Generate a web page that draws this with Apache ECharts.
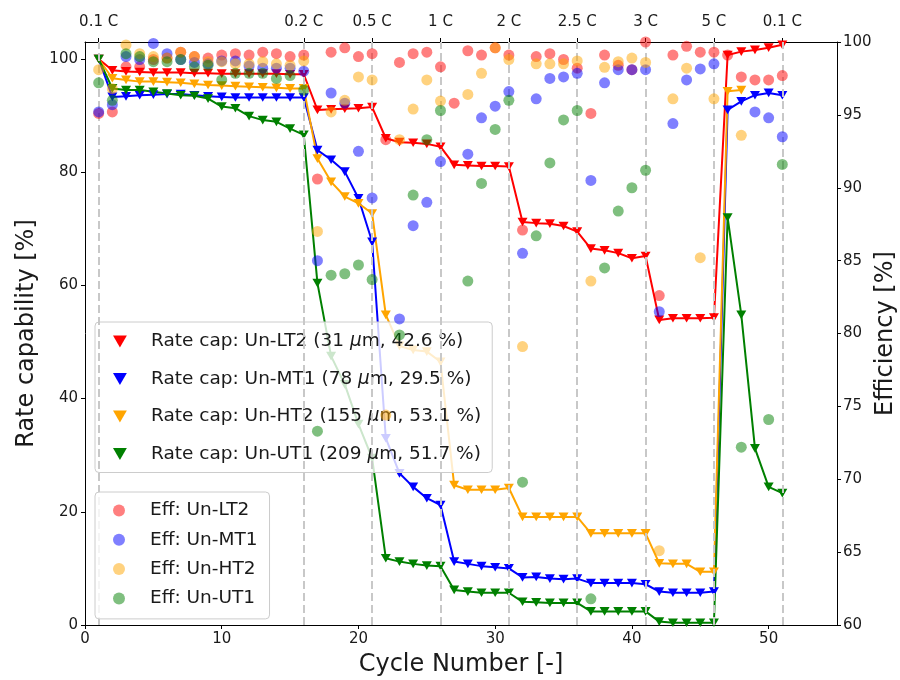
<!DOCTYPE html>
<html>
<head>
<meta charset="utf-8">
<script src="https://cdn.jsdelivr.net/npm/echarts@6/dist/echarts.min.js"></script>
<style>
  html, body { margin: 0; padding: 0; background: #ffffff; }
  #chart { width: 900px; height: 680px; }
</style>
</head>
<body>
<div id="chart"></div>
<script>
// Cycle numbers (x axis)
const cycles = [1,2,3,4,5,6,7,8,9,10,11,12,13,14,15,16,17,18,19,20,21,22,23,24,25,26,
  27,28,29,30,31,32,33,34,35,36,37,38,39,40,41,42,43,44,45,46,47,48,49,50,51];

// C-rate steps shown on the top axis
const stepCycles = [1, 16, 21, 26, 31, 36, 41, 46, 51];
const stepLabels = ['0.1 C', '0.2 C', '0.5 C', '1 C', '2 C', '2.5 C', '3 C', '5 C', '0.1 C'];

// Tick labels
const cycleTicks = [0, 10, 20, 30, 40, 50];
const rateTicks = [0, 20, 40, 60, 80, 100];

// Rate capability [%]
const rateLT2 = [100, 98.0, 97.8, 97.7, 97.6, 97.6, 97.6, 97.5, 97.5, 97.4, 97.4, 97.4, 97.4, 97.4, 97.3, 97.3,
  91.0, 91.1, 91.2, 91.3, 91.5, 86.0, 85.3, 85.2, 85.0, 84.5, 81.3, 81.2, 81.1, 81.1, 81.0,
  71.2, 71.0, 70.9, 70.5, 69.5, 66.5, 66.2, 65.7, 64.8, 65.2, 53.9, 54.2, 54.2, 54.2, 54.3,
  100.7, 101.3, 101.6, 102.0, 102.5];
const rateMT1 = [100, 93.3, 93.4, 93.6, 93.7, 93.8, 93.8, 93.6, 93.4, 93.3, 93.2, 93.2, 93.2, 93.2, 93.2, 93.2,
  83.9, 82.2, 80.1, 75.4, 67.7, 33.0, 26.8, 24.4, 22.4, 21.2, 11.2, 10.8, 10.4, 10.2, 10.0,
  8.4, 8.5, 8.2, 8.1, 8.2, 7.4, 7.4, 7.4, 7.4, 7.2, 5.9, 5.7, 5.7, 5.7, 5.9,
  91.0, 92.5, 93.6, 94.0, 93.6];
const rateHT2 = [100, 96.6, 96.3, 96.0, 96.0, 95.9, 95.8, 95.6, 95.4, 95.3, 95.2, 95.1, 95.0, 94.9, 94.8, 94.8,
  82.4, 78.3, 75.7, 74.5, 72.7, 54.8, 49.3, 48.6, 48.3, 46.5, 24.7, 23.9, 23.9, 23.9, 24.2,
  19.1, 19.1, 19.1, 19.1, 19.1, 16.2, 16.2, 16.2, 16.2, 16.2, 10.9, 10.8, 10.8, 9.4, 9.4,
  94.3, 94.5];
const rateUT1 = [100, 94.8, 94.5, 94.5, 94.2, 93.9, 93.6, 93.5, 93.0, 91.6, 91.3, 89.9, 89.2, 88.9, 87.7, 86.6,
  60.4, 47.5, 42.5, 35.5, 29.5, 11.8, 11.2, 10.8, 10.5, 10.4, 6.2, 5.9, 5.7, 5.7, 5.7,
  4.1, 4.0, 3.9, 3.9, 3.9, 2.4, 2.4, 2.4, 2.4, 2.4, 0.6, 0.4, 0.4, 0.4, 0.4,
  72.0, 54.8, 31.2, 24.4, 23.3];

// Coulombic efficiency [%] (null = not recorded / out of range)
const effLT2 = [95.1, 95.2, 98.3, 98.3, 98.8, 98.9, 99.3, 99.0, 98.9, 99.1, 99.2, 99.1, 99.3, 99.2, 99.0, 99.1,
  90.6, 99.3, 99.6, 99.0, 99.2, 93.3, 98.6, 99.2, 99.3, 98.3, 95.8, 99.4, 99.1, 99.6, 99.1,
  87.1, 99.0, 99.2, 98.8, 98.2, 95.1, 99.1, 98.4, 98.1, 100.0, 82.6, 99.1, 99.7, 99.3, 99.3,
  99.1, 97.6, 97.4, 97.4, 97.7];
const effMT1 = [95.2, 95.7, 99.0, 98.8, 99.9, 99.2, 98.8, 98.6, 98.5, 98.7, 98.7, 98.35, 98.2, 98.2, 98.2, 98.0,
  85.0, 96.5, 95.8, 92.5, 89.3, null, 81.0, 87.4, 89.0, 91.8, null, 92.3, 94.8, 95.6, 96.6,
  85.5, 96.1, 97.5, 97.6, 97.85, 90.5, 97.2, 98.1, 98.1, 98.1, 81.5, 94.4, 97.4, 98.15, 98.5,
  null, null, 95.2, 94.8, 93.5];
const effHT2 = [98.1, 96.8, 99.8, 99.2, 99.0, 98.9, 99.3, 99.0, 98.65, 98.65, 98.5, 98.5, 98.65, 98.5, 98.4, 98.7,
  87.0, 95.2, 96.0, 97.6, 97.4, 74.4, 93.3, 95.4, 97.4, 95.95, null, 96.4, 97.85, 99.6, 98.8,
  79.1, 98.5, 98.5, 98.5, 98.7, 83.6, 98.26, 98.65, 98.9, 98.6, 65.1, 96.1, 98.2, 85.2, 96.1,
  null, 93.6];
const effUT1 = [97.2, 96.0, 99.2, 99.0, 98.65, 98.65, 98.8, 98.3, 98.4, 97.4, 97.85, 97.85, 97.85, 97.5, 97.7, 96.7,
  73.3, 84.0, 84.1, 84.7, 83.7, null, 79.9, 89.5, 93.3, 95.3, null, 83.6, 90.3, 94.0, 96.0,
  69.8, 86.7, 91.7, 94.65, 95.3, 61.8, 84.5, 88.4, 90.0, 91.2, null, null, null, null, null,
  null, 72.2, null, 74.1, 91.6];

const rateNames = [
  'Rate cap: Un-LT2 (31 μm, 42.6 %)',
  'Rate cap: Un-MT1 (78 μm, 29.5 %)',
  'Rate cap: Un-HT2 (155 μm, 53.1 %)',
  'Rate cap: Un-UT1 (209 μm, 51.7 %)'
];
const effNames = ['Eff: Un-LT2', 'Eff: Un-MT1', 'Eff: Un-HT2', 'Eff: Un-UT1'];
const colors = ['#ff0000', '#0000ff', '#ffa500', '#008000'];

const rateSets = [rateLT2, rateMT1, rateHT2, rateUT1];
const effSets = [effLT2, effMT1, effHT2, effUT1];

const FONT = 'DejaVu Sans';
const INK = '#1a1a1a';
const DOWN_TRI = 'path://M0,0L2,0L1,1.732Z';

const pairs = arr => arr.map((v, i) => [cycles[i], v]).filter(p => p[1] !== null);

const series = [];
rateSets.forEach((arr, k) => {
  const s = {
    name: rateNames[k],
    type: 'line',
    xAxisIndex: 0,
    yAxisIndex: 0,
    data: pairs(arr),
    symbol: DOWN_TRI,
    symbolSize: 10,
    symbolKeepAspect: true,
    showAllSymbol: true,
    lineStyle: { color: colors[k], width: 2 },
    itemStyle: { color: colors[k] },
    emphasis: { disabled: true },
    z: 2
  };
  if (k === 0) {
    s.markLine = {
      silent: true,
      symbol: ['none', 'none'],
      label: { show: false },
      lineStyle: { type: [8, 4], color: '#c8c8c8', width: 2 },
      emphasis: { disabled: true },
      data: stepCycles.map(c => ({ xAxis: c }))
    };
  }
  series.push(s);
});
effSets.forEach((arr, k) => {
  series.push({
    name: effNames[k],
    type: 'scatter',
    xAxisIndex: 0,
    yAxisIndex: 1,
    data: pairs(arr),
    symbol: 'circle',
    symbolSize: 11,
    itemStyle: { color: colors[k], opacity: 0.5 },
    emphasis: { disabled: true },
    z: 5
  });
});

const axisLineStyle = { show: true, onZero: false, lineStyle: { color: '#000', width: 1 } };
const tickStyle = { show: true, inside: false, length: 4, lineStyle: { color: '#000', width: 1 } };
const labelStyle = { color: INK, fontFamily: FONT, fontSize: 15 };
const nameStyle = { color: INK, fontFamily: FONT, fontSize: 24 };

const legendBox = {
  orient: 'vertical',
  selectedMode: false,
  backgroundColor: 'rgba(255,255,255,0.8)',
  borderColor: '#cccccc',
  borderWidth: 1,
  borderRadius: 4,
  itemWidth: 52,
  itemHeight: 12
};

const option = {
  animation: false,
  backgroundColor: '#ffffff',
  grid: { left: 85, right: 63, top: 42, bottom: 55, containLabel: false, outerBoundsMode: 'none' },
  xAxis: [
    {
      type: 'value', position: 'bottom', min: 0, max: 55,
      axisLine: axisLineStyle,
      axisTick: Object.assign({}, tickStyle, { customValues: cycleTicks }),
      axisLabel: Object.assign({}, labelStyle, { margin: 7, customValues: cycleTicks }),
      splitLine: { show: false },
      name: 'Cycle Number [-]', nameLocation: 'middle', nameGap: 28, nameTextStyle: nameStyle
    },
    {
      type: 'value', position: 'top', min: 0, max: 55,
      axisLine: axisLineStyle,
      axisTick: Object.assign({}, tickStyle, { customValues: stepCycles }),
      axisLabel: Object.assign({}, labelStyle, {
        margin: 12,
        customValues: stepCycles,
        formatter: v => stepLabels[stepCycles.indexOf(v)]
      }),
      splitLine: { show: false }
    }
  ],
  yAxis: [
    {
      type: 'value', position: 'left', min: 0, max: 103,
      axisLine: axisLineStyle,
      axisTick: Object.assign({}, tickStyle, { customValues: rateTicks }),
      axisLabel: Object.assign({}, labelStyle, { margin: 7, customValues: rateTicks }),
      splitLine: { show: false },
      name: 'Rate capability [%]', nameLocation: 'middle', nameGap: 40, nameRotate: 90,
      nameTextStyle: nameStyle
    },
    {
      type: 'value', position: 'right', min: 60, max: 100, interval: 5,
      axisLine: axisLineStyle,
      axisTick: tickStyle,
      axisLabel: Object.assign({}, labelStyle, { margin: 6 }),
      splitLine: { show: false },
      name: 'Efficiency [%]', nameLocation: 'middle', nameGap: 37, nameRotate: 90,
      nameMoveOverlap: false,
      nameTextStyle: nameStyle
    }
  ],
  legend: [
    Object.assign({}, legendBox, {
      left: 95, top: 322,
      padding: [10, 11, 9, 18],
      itemGap: 18.5,
      z: 4,
      data: rateNames.map((n, k) => ({ name: n, icon: DOWN_TRI, itemStyle: { color: colors[k] } })),
      formatter: n => n.replace('μ', '{i|μ}'),
      textStyle: {
        color: INK, fontFamily: FONT, fontSize: 18.5, lineHeight: 18,
        rich: { i: { fontStyle: 'italic', fontFamily: FONT, fontSize: 18.5, color: INK, lineHeight: 18 } }
      }
    }),
    Object.assign({}, legendBox, {
      left: 95, top: 492,
      padding: [9, 12, 11, 18],
      itemGap: 10.3,
      z: 6,
      data: effNames.map((n, k) => ({ name: n, icon: 'circle', itemStyle: { color: colors[k], opacity: 0.5 } })),
      textStyle: { color: INK, fontFamily: FONT, fontSize: 18.5, lineHeight: 18 }
    })
  ],
  series: series
};

const chart = echarts.init(document.getElementById('chart'), null, { renderer: 'canvas' });
chart.setOption(option);
</script>
</body>
</html>
